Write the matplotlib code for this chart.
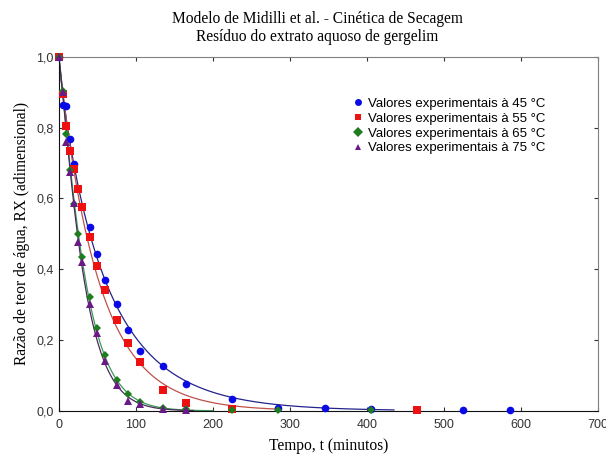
import numpy as np
import matplotlib
matplotlib.use("Agg")
import matplotlib.pyplot as plt

# ---- data ----
t45 = [0, 5, 10, 15, 20, 40, 50, 60, 75, 90, 105, 135, 165, 225, 285, 345, 405, 525, 585]
rx45 = [1.0, 0.864, 0.862, 0.768, 0.698, 0.52, 0.443, 0.37, 0.302, 0.229, 0.17, 0.127, 0.076, 0.034, 0.009, 0.008, 0.004, 0.002, 0.002]

t55 = [0, 5, 10, 15, 20, 25, 30, 40, 50, 60, 75, 90, 105, 135, 165, 225, 465]
rx55 = [1.0, 0.895, 0.805, 0.735, 0.684, 0.627, 0.577, 0.49, 0.408, 0.342, 0.257, 0.192, 0.138, 0.06, 0.022, 0.004, 0.003]

t65 = [0, 5, 10, 15, 20, 25, 30, 40, 50, 60, 75, 90, 105, 135, 165, 225, 285, 405]
rx65 = [1.0, 0.904, 0.782, 0.68, 0.585, 0.50, 0.435, 0.322, 0.234, 0.158, 0.088, 0.048, 0.025, 0.008, 0.005, 0.003, 0.003, 0.002]

t75 = [0, 5, 10, 15, 20, 25, 30, 40, 50, 60, 75, 90, 105, 135, 165]
rx75 = [1.0, 0.90, 0.76, 0.675, 0.588, 0.478, 0.42, 0.302, 0.22, 0.14, 0.073, 0.028, 0.02, 0.005, 0.003]

labels = ["Valores experimentais à 45 °C", "Valores experimentais à 55 °C",
          "Valores experimentais à 65 °C", "Valores experimentais à 75 °C"]
curve_end = [435, 280, 200, 175]

series = [(t45, rx45), (t55, rx55), (t65, rx65), (t75, rx75)]
mcolors = ["#0a0ae6", "#ee1111", "#1e7d1e", "#6a1a86"]
lcolors = ["#23238c", "#c0504a", "#3c9a5a", "#4a2a5a"]
markers = ["o", "s", "D", "^"]
msizes = [5.5, 6, 4.5, 6]

fig = plt.figure(figsize=(6.06, 4.55), dpi=100)
ax = fig.add_axes([0.097, 0.097, 0.890, 0.778])

for (t, rx), mc, lc, mk, ms, lab, tend in zip(series, mcolors, lcolors, markers, msizes, labels, curve_end):
    t = np.asarray(t, float); rx = np.asarray(rx, float)
    # fit (Page/Midilli-like, a=1, b=0) via log-linearisation
    sel = (t > 0) & (rx > 0.02) & (rx < 0.98)
    n, lnk = np.polyfit(np.log(t[sel]), np.log(-np.log(rx[sel])), 1)
    tt = np.linspace(0, tend, 400)
    ax.plot(tt, np.exp(-np.exp(lnk) * tt ** n), color=lc, lw=0.9, zorder=2)
for (t, rx), mc, mk, ms, lab in zip(series, mcolors, markers, msizes, labels):
    ax.plot(t, rx, linestyle="none", marker=mk, color=mc, markersize=ms,
            markeredgewidth=0, label=lab, zorder=3, clip_on=False)

ax.set_xlim(0, 700)
ax.set_ylim(0, 1.0)
ax.set_xticks(range(0, 701, 100))
ax.set_yticks(np.arange(0, 1.01, 0.2))
ax.set_yticklabels([f"{v:.1f}".replace(".", ",") for v in np.arange(0, 1.01, 0.2)])
ax.tick_params(direction="in", top=True, right=True, length=3, width=0.8,
               labelsize=9, colors="#333333", labelcolor="#333333")
ax.tick_params(axis="x", pad=6)
for lab in ax.get_xticklabels() + ax.get_yticklabels():
    lab.set_fontfamily("Liberation Sans")
for s in ["top", "right"]:
    ax.spines[s].set_color("#808080")
for s in ["left", "bottom"]:
    ax.spines[s].set_color("#111111")

serif = "Liberation Serif"
ax.set_xlabel("Tempo, t (minutos)", fontfamily=serif, fontsize=11.2, labelpad=5)
ax.set_ylabel("Razão de teor de água, RX (adimensional)", fontfamily=serif, fontsize=11.2, labelpad=5)
fig.text(0.523, 0.975, "Modelo de Midilli et al. - Cinética de Secagem\nResíduo do extrato aquoso de gergelim",
         ha="center", va="top", fontfamily=serif, fontsize=11.2, linespacing=1.1)

leg = ax.legend(loc="upper left", bbox_to_anchor=(0.53, 0.90), frameon=False,
                prop={"family": "Liberation Sans", "size": 9.5}, handletextpad=0.2,
                labelspacing=0.2, handlelength=1.2, borderaxespad=0)
for h in leg.legend_handles:
    h.set_markersize(5)

fig.savefig("out.png", dpi=100)
